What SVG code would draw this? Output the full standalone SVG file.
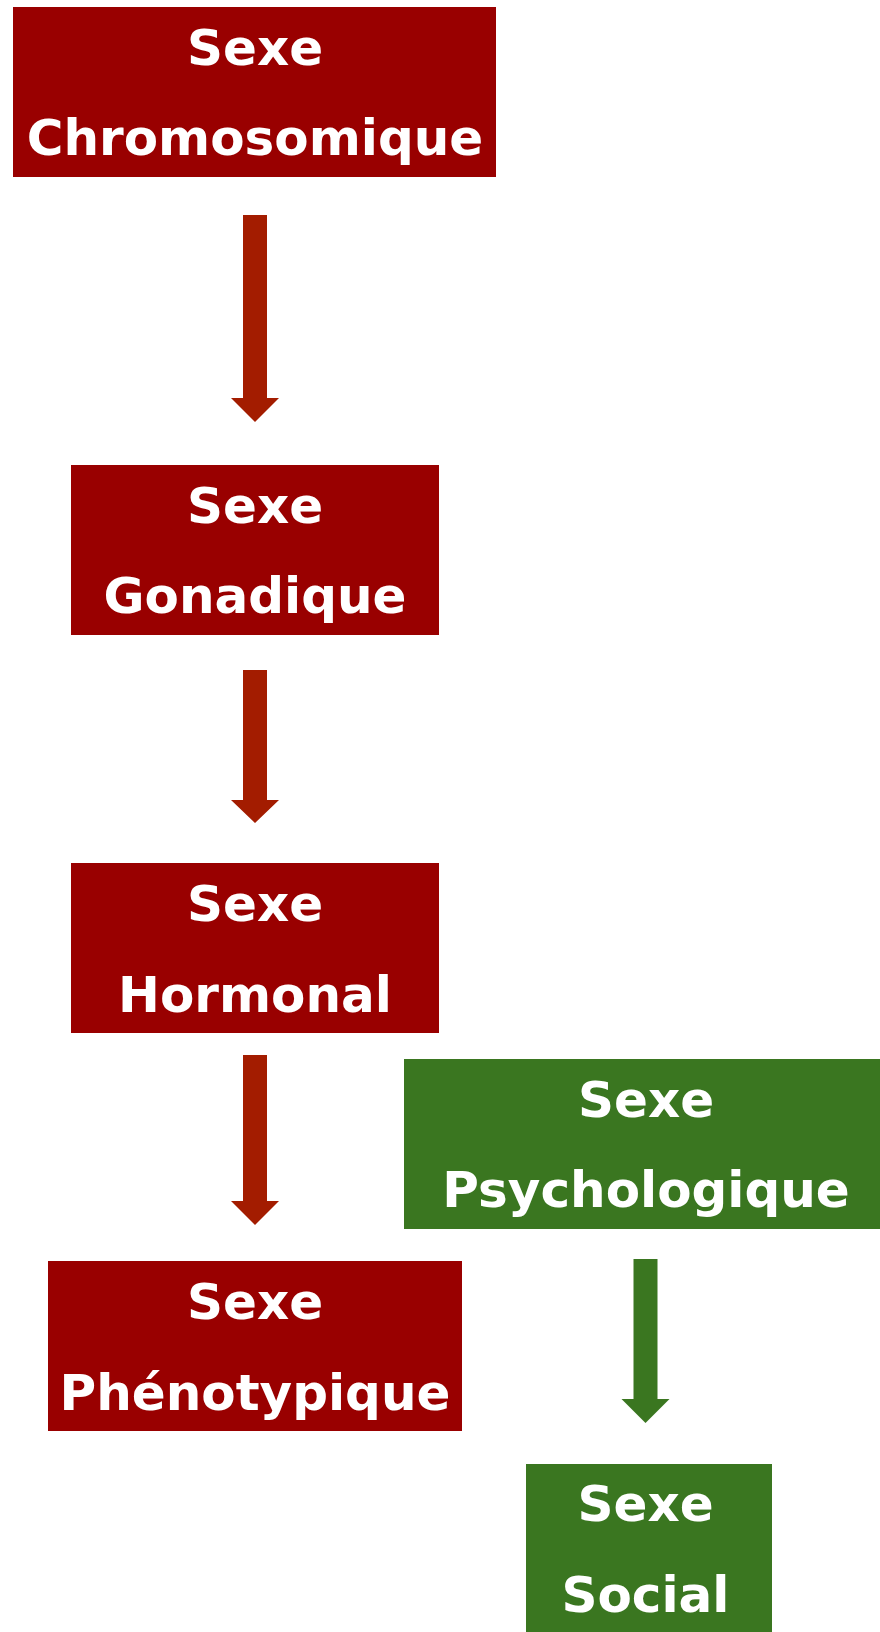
<svg xmlns="http://www.w3.org/2000/svg" width="880" height="1632" viewBox="0 0 880 1632">
<style>
.red{fill:#990000}
.green{fill:#3A7620}
.ar{fill:#A31C00}
.ag{fill:#3A7620}
text{font-family:"DejaVu Sans","Verdana",sans-serif;font-weight:bold;font-size:50px;fill:#FFFFFF;text-anchor:middle}
</style>
<rect width="880" height="1632" fill="#FFFFFF"/>
<g id="connectors">
<polygon class="ar" points="243,215 267,215 267,398 279,398 255,422 231,398 243,398"/>
<polygon class="ar" points="243,670 267,670 267,800 279,800 255,823 231,800 243,800"/>
<polygon class="ar" points="243,1055 267,1055 267,1201 279,1201 255,1225 231,1201 243,1201"/>
<polygon class="ag" points="633.5,1259 657.5,1259 657.5,1399 669.5,1399 645.5,1423 621.5,1399 633.5,1399"/>
</g>
<g id="chromosomique">
<rect class="red" x="13" y="7" width="483" height="170"/>
<text x="255" y="65">Sexe</text>
<text x="255" y="155">Chromosomique</text>
</g>
<g id="gonadique">
<rect class="red" x="71" y="465" width="368" height="170"/>
<text x="255" y="523">Sexe</text>
<text x="255" y="613">Gonadique</text>
</g>
<g id="hormonal">
<rect class="red" x="71" y="863" width="368" height="170"/>
<text x="255" y="921">Sexe</text>
<text x="255" y="1012">Hormonal</text>
</g>
<g id="psychologique">
<rect class="green" x="404" y="1059" width="490" height="170"/>
<text x="646" y="1117">Sexe</text>
<text x="646" y="1207">Psychologique</text>
</g>
<g id="phenotypique">
<rect class="red" x="48" y="1261" width="414" height="170"/>
<text x="255" y="1319">Sexe</text>
<text x="255" y="1410">Phénotypique</text>
</g>
<g id="social">
<rect class="green" x="526" y="1464" width="246" height="180"/>
<text x="645.5" y="1521">Sexe</text>
<text x="645.5" y="1612">Social</text>
</g>
</svg>
